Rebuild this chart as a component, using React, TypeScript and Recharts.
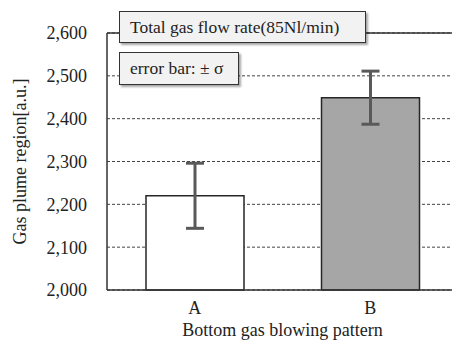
import React from "react";
import {
  BarChart,
  Bar,
  XAxis,
  YAxis,
  CartesianGrid,
  ErrorBar,
  Cell,
  ReferenceLine,
} from "recharts";

const categories = ["A", "B"];
const plumeRegion = [2220, 2449];
const sigma = [76, 62];
const yTicks = [2000, 2100, 2200, 2300, 2400, 2500, 2600];

const barFills = ["#ffffff", "#a6a6a6"];
const font = "'Liberation Serif', 'Times New Roman', serif";

export default function App() {
  const data = categories.map((name, i) => ({
    name,
    value: plumeRegion[i],
    err: sigma[i],
  }));

  const boxStyle: React.CSSProperties = {
    position: "absolute",
    left: 119,
    background: "#f2f2f2",
    border: "1.5px solid #333",
    boxShadow: "2px 2px 2px rgba(0,0,0,0.35)",
    fontSize: 17.5,
    color: "#222",
    boxSizing: "border-box",
    paddingLeft: 10,
    display: "flex",
    alignItems: "center",
  };

  return (
    <div
      style={{
        position: "relative",
        width: 452,
        height: 340,
        overflow: "hidden",
        background: "#fff",
        fontFamily: font,
      }}
    >
      <style>{`body{margin:0;overflow:hidden} .recharts-text{font-family:${font}}`}</style>
      <BarChart
        width={460}
        height={340}
        data={data}
        margin={{ top: 33, right: 2, bottom: 0, left: 0 }}
        style={{ fontFamily: font }}
      >
        <CartesianGrid vertical={false} stroke="#444" strokeDasharray="3 2" />
        <XAxis
          dataKey="name"
          height={50}
          tickSize={0}
          tickMargin={11}
          axisLine={{ stroke: "#333", strokeWidth: 1.5 }}
          tick={{ fill: "#222", fontSize: 18 }}
          label={{
            value: "Bottom gas blowing pattern",
            position: "insideBottom",
            offset: 4,
            fill: "#222",
            fontSize: 18,
          }}
        />
        <YAxis
          width={107}
          domain={[2000, 2600]}
          ticks={yTicks}
          tickSize={0}
          tickMargin={20}
          tickFormatter={(v: number) => v.toLocaleString("en-US")}
          axisLine={{ stroke: "#333", strokeWidth: 1.5 }}
          tick={{ fill: "#222", fontSize: 18 }}
          label={{
            value: "Gas plume region[a.u.]",
            angle: -90,
            position: "insideLeft",
            offset: 20,
            fill: "#222",
            fontSize: 18,
            style: { textAnchor: "middle" },
          }}
        />
        <ReferenceLine y={2600} stroke="#333" strokeWidth={1.5} />
        <Bar
          dataKey="value"
          barSize={98}
          stroke="#262626"
          strokeWidth={1.5}
          isAnimationActive={false}
        >
          {data.map((d, i) => (
            <Cell key={d.name} fill={barFills[i]} />
          ))}
          <ErrorBar
            dataKey="err"
            direction="y"
            width={9}
            strokeWidth={3}
            stroke="#595959"
          />
        </Bar>
      </BarChart>
      <div style={{ ...boxStyle, top: 11, width: 247, height: 32 }}>
        Total gas flow rate(85Nl/min)
      </div>
      <div style={{ ...boxStyle, top: 52, width: 120, height: 33 }}>
        error bar: ± σ
      </div>
    </div>
  );
}
